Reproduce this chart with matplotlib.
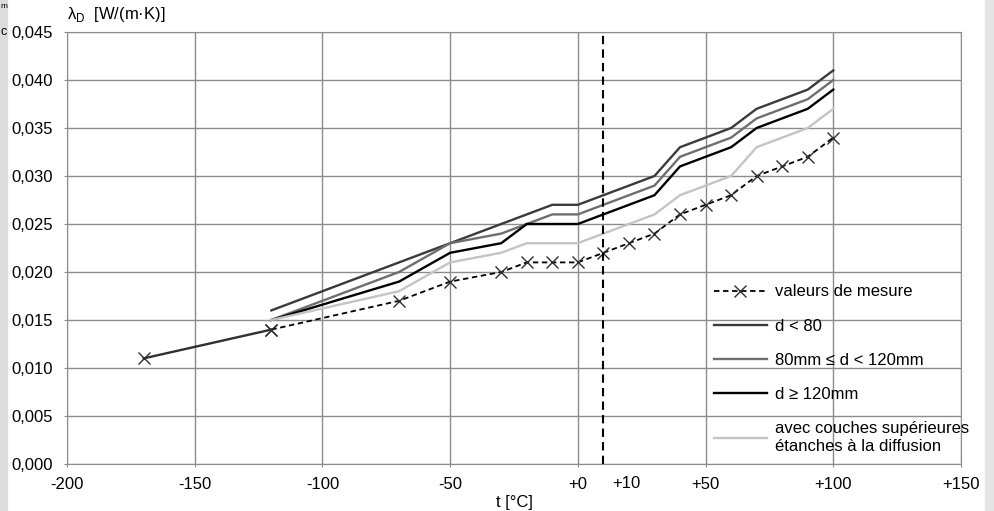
import numpy as np
import matplotlib.pyplot as plt
from matplotlib.patches import Rectangle
from matplotlib.ticker import FuncFormatter

plt.rcParams['font.family'] = ['Liberation Sans', 'DejaVu Sans']
plt.rcParams['font.size'] = 12

# valeurs de mesure
t_mes = [-170, -120, -70, -50, -30, -20, -10, 0, 10, 20, 30, 40, 50, 60, 70, 80, 90, 100]
l_mes = [0.011, 0.014, 0.017, 0.019, 0.020, 0.021, 0.021, 0.021, 0.022, 0.023,
         0.024, 0.026, 0.027, 0.028, 0.030, 0.031, 0.032, 0.034]

# d < 80
t_d80 = [-120, -50, -10, 0, 30, 40, 60, 70, 90, 100]
l_d80 = [0.016, 0.023, 0.027, 0.027, 0.030, 0.033, 0.035, 0.037, 0.039, 0.041]

# 80mm <= d < 120mm
t_d80_120 = [-120, -70, -50, -30, -20, -10, 0, 30, 40, 60, 70, 90, 100]
l_d80_120 = [0.015, 0.020, 0.023, 0.024, 0.025, 0.026, 0.026, 0.029, 0.032, 0.034, 0.036, 0.038, 0.040]

# d >= 120mm
t_d120 = [-120, -70, -50, -30, -20, -10, 0, 30, 40, 60, 70, 90, 100]
l_d120 = [0.015, 0.019, 0.022, 0.023, 0.025, 0.025, 0.025, 0.028, 0.031, 0.033, 0.035, 0.037, 0.039]

# avec couches superieures etanches
t_couches = [-120, -70, -50, -30, -20, -10, 0, 30, 40, 60, 70, 90, 100]
l_couches = [0.015, 0.018, 0.021, 0.022, 0.023, 0.023, 0.023, 0.026, 0.028, 0.030, 0.033, 0.035, 0.037]

xticks = [-200, -150, -100, -50, 0, 50, 100, 150]
xlabels = ['-200', '-150', '-100', '-50', '+0', '+50', '+100', '+150']

fig = plt.figure(figsize=(9.94, 5.11), dpi=100)
ax = fig.add_axes([67 / 994, 1 - 464 / 511, 894 / 994, 432 / 511])

grid_col = '#8c8c8c'

# bandes grises sur les bords
fig.patches.append(Rectangle((0, 0), 7 / 994, 1, transform=fig.transFigure,
                             color='#dcdcdc', zorder=0))
fig.patches.append(Rectangle((985 / 994, 0), 9 / 994, 1, transform=fig.transFigure,
                             color='#e4e4e4', zorder=0))
fig.text(0.5 / 994, 1 - 6 / 511, 'm', ha='left', va='center', fontsize=6)
fig.text(0.5 / 994, 1 - 32 / 511, 'c', ha='left', va='center', fontsize=9)

# courbes
ax.plot(t_d80, l_d80, color='#3a3a3a', lw=1.7, label='d < 80')
ax.plot(t_d80_120, l_d80_120, color='#6e6e6e', lw=1.7, label='80mm ≤ d < 120mm')
ax.plot(t_d120, l_d120, color='black', lw=1.7, label='d ≥ 120mm')
ax.plot(t_couches, l_couches, color='#c4c4c4', lw=1.7,
        label='avec couches supérieures\nétanches à la diffusion')
ax.plot(t_mes[:2], l_mes[:2], color='#303030', lw=1.7, marker='x', ms=9, mew=1)
ax.plot(t_mes[1:], l_mes[1:], color='black', lw=1.3, ls=(0, (3, 2)),
        marker='x', ms=9, mew=1, mec='#303030', label='valeurs de mesure')

ax.axvline(10, color='black', lw=1.5, ls=(0, (4, 2.5)))

ax.set_xlim(-200, 150)
ax.set_ylim(0, 0.045)
ax.set_xticks(xticks, labels=xlabels)
ax.set_xticks([19], labels=['+10'], minor=True)
ax.set_yticks(np.arange(0, 0.0451, 0.005))
ax.yaxis.set_major_formatter(FuncFormatter(lambda v, p: f'{v:.3f}'.replace('.', ',')))
ax.tick_params(which='major', length=2.5, color=grid_col, pad=7)
ax.tick_params(which='minor', length=0, pad=9)
ax.tick_params(axis='y', pad=7.5)
ax.grid(True, which='major', color=grid_col, lw=1)
ax.set_axisbelow(True)
for s in ax.spines.values():
    s.set_color(grid_col)

ax.set_xlabel('t [°C]', labelpad=2)
ax.text(0, 1.018, 'λ$_\\mathregular{D}$  [W/(m·K)]', transform=ax.transAxes,
        ha='left', va='bottom')

h, l = ax.get_legend_handles_labels()
order = [4, 0, 1, 2, 3]
ax.legend([h[i] for i in order], [l[i] for i in order], loc='upper left',
          bbox_to_anchor=(0.716, 0.431), borderaxespad=0, frameon=False,
          handlelength=3.2, handletextpad=0.5, labelspacing=1.15, fontsize=12)

plt.savefig('out.png')
